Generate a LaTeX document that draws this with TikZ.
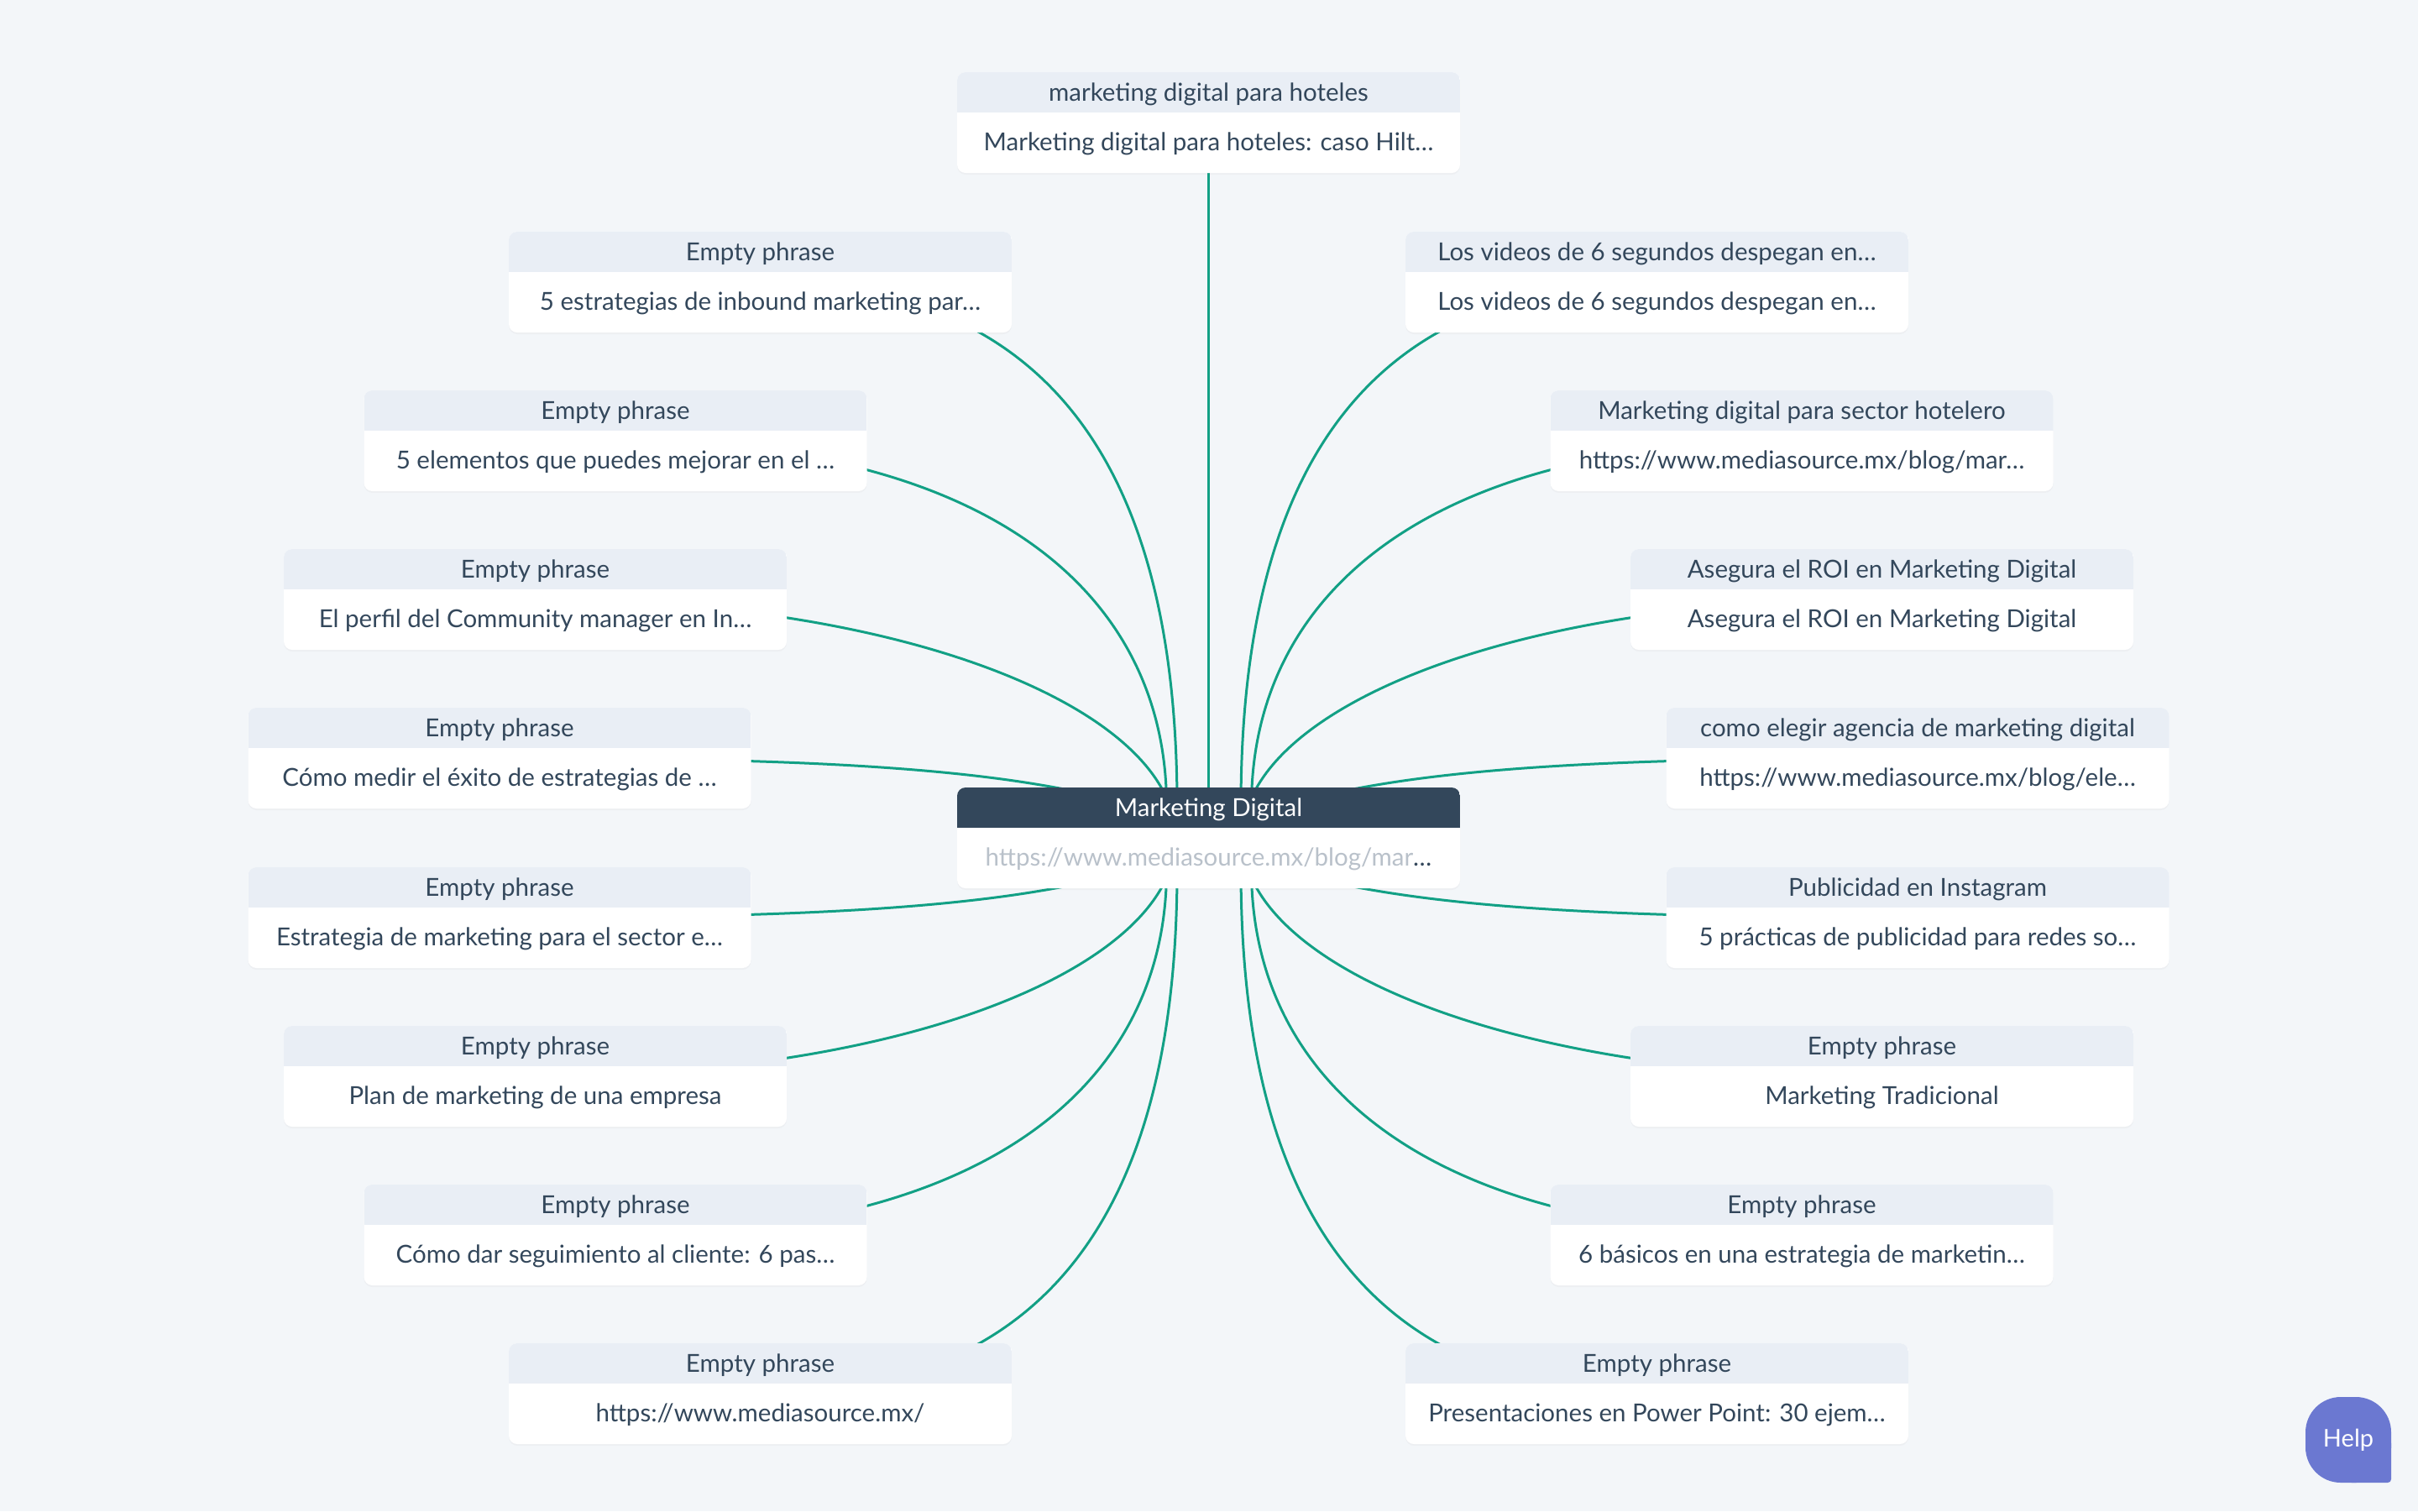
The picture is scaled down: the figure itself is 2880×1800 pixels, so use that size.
\documentclass[tikz,border=0pt]{standalone}
\usepackage{fontspec}
\setmainfont{Lato}
\usetikzlibrary{calc,shadows}
\definecolor{bgc}{HTML}{F3F6F9}
\definecolor{headc}{HTML}{E9EEF5}
\definecolor{txtc}{HTML}{33475B}
\definecolor{darkc}{HTML}{33475B}
\definecolor{linec}{HTML}{12A085}
\definecolor{helpc}{HTML}{6B78D1}
\definecolor{blurc}{HTML}{B9C1CA}
\pgfdeclarelayer{bglayer}
\pgfdeclarelayer{edgelayer}
\pgfsetlayers{bglayer,edgelayer,main}
\tikzset{
  card/.style={rectangle, rounded corners=10pt, fill=white, minimum width=599pt,
    minimum height=120pt, inner sep=0pt, outer sep=0pt,
    drop shadow={shadow xshift=0pt, shadow yshift=-2pt, opacity=0.05}},
  headtext/.style={font=\fontsize{29.5}{34}\selectfont, text=txtc, inner sep=0pt, anchor=base},
  bodytext/.style={font=\fontsize{29.5}{34}\selectfont, text=txtc, inner sep=0pt, anchor=base},
  conn/.style={draw=linec, line width=3pt},
  helpbtn/.style={rectangle, rounded corners=42pt, fill=helpc, minimum width=102pt,
    minimum height=102pt, inner sep=0pt, outer sep=0pt, text=white,
    font=\fontsize{29}{34}\selectfont}
}
\newcommand{\mmcard}[5]{%
  \node[card] (#1) at (#2,#3) {};
  \begin{scope}
    \clip[rounded corners=10pt] (#1.south west) rectangle (#1.north east);
    \fill[headc] (#1.north west) rectangle ($(#1.north east)+(0,48)$);
  \end{scope}
  \node[headtext] (#1h) at ($(#1.north)+(0,34)$) {#4};
  \node[bodytext] (#1b) at ($(#1.north)+(0,93)$) {#5};
}
\begin{document}
\begin{tikzpicture}[x=1pt,y=-1pt]
\useasboundingbox (0,0) rectangle (2880,1800);
\begin{pgfonlayer}{bglayer}
  \fill[bgc] (0,0) rectangle (2880,1800);
\end{pgfonlayer}

% central node
\node[card] (c) at (1439.5,998) {};
\begin{scope}
  \clip[rounded corners=10pt] (c.south west) rectangle (c.north east);
  \fill[darkc] (c.north west) rectangle ($(c.north east)+(0,48)$);
\end{scope}
\node[headtext, text=white] (ch) at ($(c.north)+(0,34)$) {Marketing Digital};
\node[bodytext, text=blurc] (cb) at ($(c.north)+(0,93)$) {https://www.mediasource.mx/blog/mar\textcolor{txtc}{…}};

% top
\mmcard{t}{1439.5}{146}{marketing digital para hoteles}{Marketing digital para hoteles: caso Hilt…}
% left column
\mmcard{l1}{905.5}{336}{Empty phrase}{5 estrategias de inbound marketing par…}
\mmcard{l2}{733}{525}{Empty phrase}{5 elementos que puedes mejorar en el …}
\mmcard{l3}{637.5}{714}{Empty phrase}{El perfil del Community manager en In…}
\mmcard{l4}{595}{903}{Empty phrase}{Cómo medir el éxito de estrategias de …}
\mmcard{l5}{595}{1093}{Empty phrase}{Estrategia de marketing para el sector e…}
\mmcard{l6}{637.5}{1282}{Empty phrase}{Plan de marketing de una empresa}
\mmcard{l7}{733}{1471}{Empty phrase}{Cómo dar seguimiento al cliente: 6 pas…}
\mmcard{l8}{905.5}{1660}{Empty phrase}{https://www.mediasource.mx/}
% right column
\mmcard{r1}{1973.5}{336}{Los videos de 6 segundos despegan en…}{Los videos de 6 segundos despegan en…}
\mmcard{r2}{2146}{525}{Marketing digital para sector hotelero}{https://www.mediasource.mx/blog/mar…}
\mmcard{r3}{2241.5}{714}{Asegura el ROI en Marketing Digital}{Asegura el ROI en Marketing Digital}
\mmcard{r4}{2284}{903}{como elegir agencia de marketing digital}{https://www.mediasource.mx/blog/ele…}
\mmcard{r5}{2284}{1093}{Publicidad en Instagram}{5 prácticas de publicidad para redes so…}
\mmcard{r6}{2241.5}{1282}{Empty phrase}{Marketing Tradicional}
\mmcard{r7}{2146}{1471}{Empty phrase}{6 básicos en una estrategia de marketin…}
\mmcard{r8}{1973.5}{1660}{Empty phrase}{Presentaciones en Power Point: 30 ejem…}

% help button
\node[helpbtn] (help) at (2797,1715) {Help};

\begin{pgfonlayer}{edgelayer}
  \fill[helpc, rounded corners=4pt] (help.center) rectangle (help.south east);
  \draw[conn] (t.center) -- (c.center);
  % upper left
  \draw[conn] (l1.center) .. controls +(330,0) and +(0,-420) .. ($(c.center)+(-37.5,-38)$);
  \draw[conn] (l2.center) .. controls +(450,0) and +(0,-250) .. ($(c.center)+(-50,-38)$);
  \draw[conn] (l3.center) .. controls +(450,0) and +(0,-150) .. ($(c.center)+(-39.5,0)$);
  \draw[conn] (l4.center) .. controls +(405,0) and +(-140,-83) .. (c.center);
  % lower left
  \draw[conn] (l5.center) .. controls +(405,0) and +(-140,83) .. (c.center);
  \draw[conn] (l6.center) .. controls +(450,0) and +(0,150) .. ($(c.center)+(-39.5,0)$);
  \draw[conn] (l7.center) .. controls +(450,0) and +(0,250) .. ($(c.center)+(-50,38)$);
  \draw[conn] (l8.center) .. controls +(330,0) and +(0,420) .. ($(c.center)+(-37.5,38)$);
  % upper right
  \draw[conn] (r1.center) .. controls +(-330,0) and +(0,-420) .. ($(c.center)+(38.5,-38)$);
  \draw[conn] (r2.center) .. controls +(-450,0) and +(0,-250) .. ($(c.center)+(51,-38)$);
  \draw[conn] (r3.center) .. controls +(-450,0) and +(0,-150) .. ($(c.center)+(40.5,0)$);
  \draw[conn] (r4.center) .. controls +(-405,0) and +(140,-83) .. (c.center);
  % lower right
  \draw[conn] (r5.center) .. controls +(-405,0) and +(140,83) .. (c.center);
  \draw[conn] (r6.center) .. controls +(-450,0) and +(0,150) .. ($(c.center)+(40.5,0)$);
  \draw[conn] (r7.center) .. controls +(-450,0) and +(0,250) .. ($(c.center)+(51,38)$);
  \draw[conn] (r8.center) .. controls +(-330,0) and +(0,420) .. ($(c.center)+(38.5,38)$);
\end{pgfonlayer}
\end{tikzpicture}
\end{document}
